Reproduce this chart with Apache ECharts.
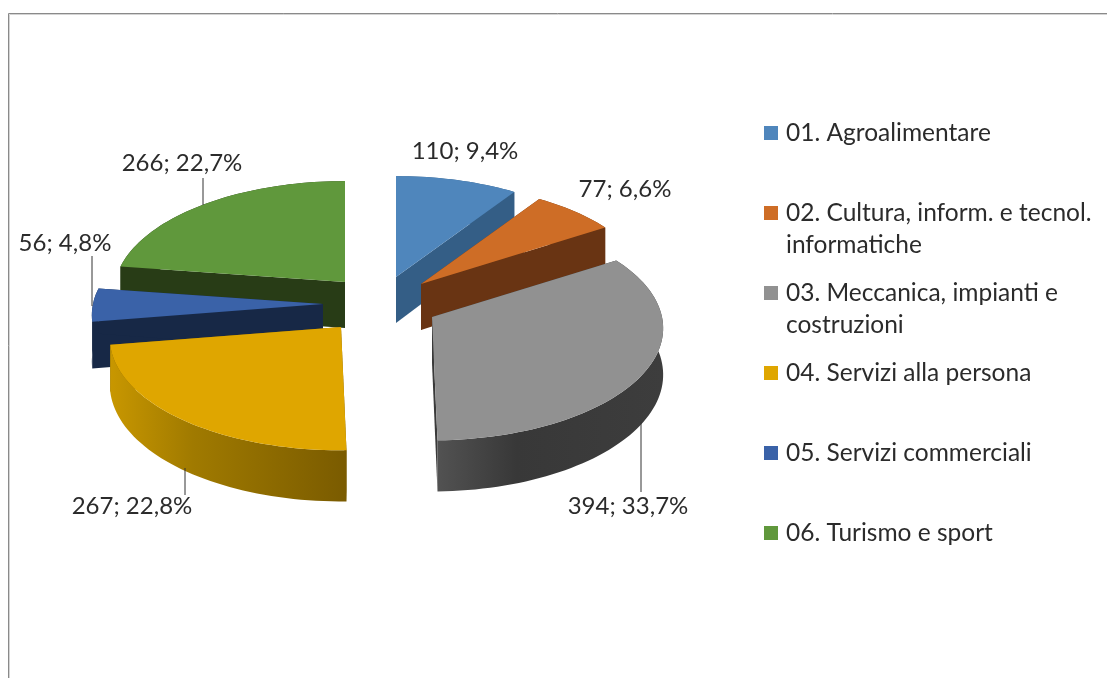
<!DOCTYPE html>
<html>
<head>
<meta charset="utf-8">
<style>
  html, body { margin: 0; padding: 0; background: #fff; }
  #chart { width: 1107px; height: 678px; }
</style>
<script src="https://cdn.jsdelivr.net/npm/echarts@6/dist/echarts.min.js"></script>
</head>
<body>
<div id="chart"></div>
<script>
const categories = [
  "01. Agroalimentare",
  "02. Cultura, inform. e tecnol.\ninformatiche",
  "03. Meccanica, impianti e\ncostruzioni",
  "04. Servizi alla persona",
  "05. Servizi commerciali",
  "06. Turismo e sport"
];
const values = [110, 77, 394, 267, 56, 266];
const percentLabels = ["9,4", "6,6", "33,7", "22,8", "4,8", "22,7"];

const topColors = ["#4f86bc", "#ce6d26", "#919191", "#dfa600", "#3a62a8", "#60983c"];
const wallColors = ["#345e86", "#693413", "#3a3a3a", "#7c5c00", "#172846", "#283c16"];
const rimLeft = ["#345e86", "#693413", "#525252", "#c89700", "#172846", "#283c16"];
const rimMid = ["#345e86", "#693413", "#383838", "#a07a00", "#172846", "#283c16"];
const rimRight = ["#345e86", "#693413", "#3d3d3d", "#7a5b00", "#172846", "#283c16"];

// back slices first, the front ones overlap them
const drawOrder = [5, 4, 3, 0, 1, 2];

// projection of the tilted pie
const center = [370, 305];
const radiusX = 230;
const radiusY = 111;
const depth = 46;
const perspective = 0.1;
const explode = [[26, -28], [51, -21], [62, 12], [-29, 22], [-47, -1], [-25, -23]];

const labelPos = [[465, 151], [625, 189], [628, 506], [132, 506], [65, 243], [182, 163]];
const leaders = [null, null, [641, 422, 492], [185, 468, 495], [92, 256, 306], [203, 178, 205]];

const total = values.reduce((a, b) => a + b, 0);
const FONT = "Lato, sans-serif";

function sliceAngles(i, value) {
  let before = 0;
  for (let k = 0; k < i; k++) before += values[k];
  return [before / total * Math.PI * 2, (before + value) / total * Math.PI * 2];
}

function project(i, r, angle, down) {
  const X = r * Math.sin(angle);
  const Y = -r * Math.cos(angle);
  const s = 1 / (1 - perspective * Y);
  return [
    center[0] + explode[i][0] + radiusX * X * s,
    center[1] + explode[i][1] + radiusY * Y * s + (down ? depth * s : 0)
  ];
}

function arc(i, a0, a1, down) {
  const pts = [];
  const steps = Math.max(2, Math.ceil((a1 - a0) / 0.03));
  for (let k = 0; k <= steps; k++) pts.push(project(i, 1, a0 + (a1 - a0) * k / steps, down));
  return pts;
}

function renderSlice(i, api) {
  const [a0, a1] = sliceAngles(i, api.value(0));
  const apexTop = project(i, 0, 0, false);
  const apexLow = project(i, 0, 0, true);
  const topArc = arc(i, a0, a1, false);
  const lowArc = arc(i, a0, a1, true);
  const wall = (k) => ({
    type: "polygon",
    shape: { points: [apexTop, topArc[k], lowArc[k], apexLow] },
    style: { fill: wallColors[i] }
  });
  const children = [
    wall(0),
    wall(topArc.length - 1),
    {
      type: "polygon",
      shape: { points: topArc.concat(lowArc.slice().reverse()) },
      style: {
        fill: new echarts.graphic.LinearGradient(0, 0, 1, 0, [
          { offset: 0, color: rimLeft[i] },
          { offset: 0.35, color: rimMid[i] },
          { offset: 1, color: rimRight[i] }
        ])
      }
    },
    {
      type: "polygon",
      shape: { points: [apexTop].concat(topArc) },
      style: { fill: topColors[i] }
    }
  ];
  if (leaders[i]) {
    children.push({
      type: "line",
      shape: { x1: leaders[i][0], y1: leaders[i][1], x2: leaders[i][0], y2: leaders[i][2] },
      style: { stroke: "#333", lineWidth: 1 }
    });
  }
  children.push({
    type: "text",
    style: {
      text: api.value(0) + "; " + percentLabels[i] + "%",
      x: labelPos[i][0],
      y: labelPos[i][1],
      align: "center",
      verticalAlign: "middle",
      fontFamily: FONT,
      fontSize: 24,
      fill: "#2b2b2b"
    }
  });
  return { type: "group", children: children };
}

const chart = echarts.init(document.getElementById("chart"), null, { renderer: "canvas" });

chart.setOption({
  animation: false,
  backgroundColor: "#fff",
  graphic: [
    { type: "polyline", shape: { points: [[8.5, 678], [8.5, 13.5], [1107, 13.5]] }, style: { fill: null, stroke: "#8a8a8a", lineWidth: 1 } },
    { type: "polyline", shape: { points: [[9.5, 678], [9.5, 14.5], [1107, 14.5]] }, style: { fill: null, stroke: "#d4d4d4", lineWidth: 1 } }
  ],
  legend: {
    data: categories,
    orient: "vertical",
    left: 764,
    top: 85,
    itemWidth: 14,
    itemHeight: 14,
    itemGap: -16,
    selectedMode: false,
    icon: "rect",
    padding: 0,
    formatter: (name) => (name.indexOf("\n") >= 0 ? "\n" + name : "\n" + name + "\n "),
    textStyle: { fontFamily: FONT, fontSize: 24.5, lineHeight: 32, color: "#2b2b2b", padding: [0, 0, 0, 3] }
  },
  series: drawOrder.map((i) => ({
    type: "custom",
    name: categories[i],
    coordinateSystem: "none",
    silent: true,
    itemStyle: { color: topColors[i] },
    data: [[values[i]]],
    renderItem: (params, api) => renderSlice(i, api)
  }))
});
</script>
</body>
</html>
